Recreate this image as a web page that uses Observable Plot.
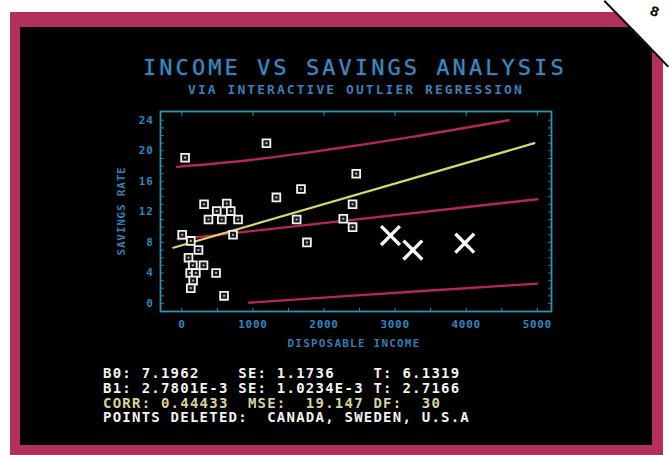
<!DOCTYPE html>
<html>
<head>
<meta charset="utf-8">
<script src="https://cdn.jsdelivr.net/npm/d3@7"></script>
<script src="https://cdn.jsdelivr.net/npm/@observablehq/plot@0.6"></script>
<style>
  html, body { margin: 0; padding: 0; background: #fff; }
  #page { position: relative; width: 669px; height: 455px; overflow: hidden; background: #fff; }
  .abs { position: absolute; white-space: pre; line-height: 1; }
  #chart { position: absolute; left: 0; top: 0; }
  #chart svg text { letter-spacing: 0.7px; }
</style>
</head>
<body>
<div id="page">
  <div class="abs" style="left:10px;top:12px;width:653px;height:443px;background:#b3305a;"></div>
  <div class="abs" style="left:20px;top:27px;width:632px;height:418px;background:#000;"></div>
  <div id="chart"></div>
  <div id="title" class="abs" style="left:143px;top:58.4px;line-height:20px;font-family:'DejaVu Sans Mono';font-size:22px;letter-spacing:3.05px;color:#3f88bd;text-shadow:0 0 2px rgba(60,140,200,0.5);"></div>
  <div id="subtitle" class="abs" style="left:188px;top:83.5px;line-height:12px;font-family:'DejaVu Sans Mono';font-weight:bold;font-size:13px;letter-spacing:2.05px;color:#3a7fb8;"></div>
  <div id="ylabel" class="abs" style="left:121px;top:211px;font-family:'DejaVu Sans Mono';font-weight:bold;font-size:11px;letter-spacing:0.8px;color:#2f7fb5;transform:translate(-50%,-50%) rotate(-90deg);"></div>
  <div id="xlabel" class="abs" style="left:354px;top:343px;font-family:'DejaVu Sans Mono';font-weight:bold;font-size:11px;letter-spacing:1.2px;color:#2f7fb5;transform:translate(-50%,-50%);"></div>
  <div id="stats" class="abs" style="left:103px;top:366px;font-family:'DejaVu Sans Mono';font-weight:bold;font-size:14px;letter-spacing:1.23px;line-height:14.8px;color:#f2f2ee;"></div>
  <div class="abs" style="left:0;top:0;width:669px;height:455px;background:#fff;clip-path:polygon(605px 0,669px 0,669px 66px);"></div>
  <div class="abs" style="left:605px;top:0;width:92px;height:2px;background:#111;transform-origin:0 0;transform:rotate(45.9deg);"></div>
  <div class="abs" style="left:650px;top:5px;font-family:'DejaVu Sans';font-weight:bold;font-size:13px;color:#111;transform:rotate(20deg);">8</div>
</div>
<script>
// ---- Data ----
const titleText = "INCOME VS SAVINGS ANALYSIS";
const subtitleText = "VIA INTERACTIVE OUTLIER REGRESSION";
const xLabel = "DISPOSABLE INCOME";
const yLabel = "SAVINGS RATE";

// kept points (disposable income, savings rate)
const incomeX  = [46, 1190, 1330, 1676, 313, 632, 491, 688, 375, 562, 791, 1615, 5, 126, 720, 1760, 234, 94, 154, 305, 117, 197, 482, 159, 126, 594, 2453, 2402, 2271, 2402];
const savingsY = [19.1, 21.0, 13.9, 15.0, 13.0, 13.1, 12.1, 12.1, 11.0, 11.0, 11.0, 11.0, 9.0, 8.2, 9.0, 8.0, 7.0, 6.0, 5.0, 5.0, 4.0, 4.0, 4.0, 3.0, 2.0, 1.0, 17.0, 13.0, 11.1, 10.0];

// deleted outliers
const deletedNames = ["CANADA", "SWEDEN", "U.S.A"];
const deletedX = [2935, 3250, 3980];
const deletedY = [8.9, 7.0, 7.9];

// fitted line after deletion (yellow)
const fitX = [-120, 4960];
const fitY = [7.3, 21.0];
// fit with all points (red, middle) and its band (red, upper/lower)
const allFitX = [-60, 5000];
const allFitY = [8.4, 13.65];
const upperX = [-70, 969, 2093, 3216, 4597];
const upperY = [17.9, 18.8, 20.2, 21.8, 24.0];
const lowerX = [946, 2093, 3500, 5000];
const lowerY = [0.1, 0.83, 1.7, 2.6];

const xTicks = [0, 1000, 2000, 3000, 4000, 5000];
const yTicks = [0, 4, 8, 12, 16, 20, 24];

const statLines = [
  "B0: 7.1962    SE: 1.1736    T: 6.1319",
  "B1: 2.7801E-3 SE: 1.0234E-3 T: 2.7166",
  "CORR: 0.44433  MSE:  19.147 DF:  30",
  "POINTS DELETED:  CANADA, SWEDEN, U.S.A"
];

// ---- Build ----
const pts = incomeX.map((x, i) => ({x, y: savingsY[i]}));
const outs = deletedX.map((x, i) => ({x, y: deletedY[i], name: deletedNames[i]}));
const toLine = (xs, ys) => xs.map((x, i) => ({x, y: ys[i]}));

const axisColor = "#2f86c0";
const frameColor = "#2a96b0";
const red = "#b3275a";
const yellow = "#d6d86a";

const chart = Plot.plot({
  width: 669,
  height: 455,
  marginLeft: 160,
  marginRight: 118,
  marginTop: 111,
  marginBottom: 144,
  style: {background: "transparent", fontFamily: "DejaVu Sans Mono", color: axisColor},
  x: {domain: [-300, 5200]},
  y: {domain: [-1.05, 25.15]},
  marks: [
    Plot.frame({stroke: frameColor, strokeWidth: 1.8}),
    Plot.axisY({anchor: "left", ticks: d3.range(0, 25, 1), tickSize: -4, text: null, label: null, stroke: frameColor, strokeOpacity: 0.8}),
    Plot.axisY({anchor: "right", ticks: d3.range(0, 25, 1), tickSize: -4, text: null, label: null, stroke: frameColor, strokeOpacity: 0.8}),
    Plot.axisX({anchor: "top", ticks: xTicks, tickSize: -4, text: null, label: null, stroke: frameColor}),
    Plot.axisX({anchor: "bottom", ticks: d3.range(0, 5001, 500), tickSize: -3, text: null, label: null, stroke: frameColor}),
    Plot.axisY({anchor: "left", ticks: yTicks, tickSize: 0, tickPadding: 7, label: null, tickFormat: d => String(d), fill: axisColor, fontSize: 11, fontWeight: "bold"}),
    Plot.axisX({anchor: "bottom", ticks: xTicks, tickSize: 0, tickPadding: 9, label: null, tickFormat: d => String(d), fill: axisColor, fontSize: 11, fontWeight: "bold"}),
    Plot.line(toLine(upperX, upperY), {x: "x", y: "y", stroke: red, strokeWidth: 2.4, curve: "monotone-x"}),
    Plot.line(toLine(allFitX, allFitY), {x: "x", y: "y", stroke: red, strokeWidth: 2.4}),
    Plot.line(toLine(lowerX, lowerY), {x: "x", y: "y", stroke: red, strokeWidth: 2.4, curve: "monotone-x"}),
    Plot.line(toLine(fitX, fitY), {x: "x", y: "y", stroke: yellow, strokeWidth: 2.2}),
    Plot.dot(pts, {x: "x", y: "y", symbol: "square", r: 4.4, fill: "#1a1a1a", stroke: "#f2f2f2", strokeWidth: 1.8}),
    Plot.dot(pts, {x: "x", y: "y", r: 1.1, fill: "#bbbbbb"}),
    Plot.dot(outs, {x: "x", y: "y", symbol: "times", r: 8.6, stroke: "#f4f4f4", strokeWidth: 3.4, title: "name"}),
    Plot.dot(outs, {x: "x", y: "y", symbol: "square", r: 2.6, fill: "#ffffff"})
  ]
});
document.getElementById("chart").appendChild(chart);

document.getElementById("title").textContent = titleText;
document.getElementById("subtitle").textContent = subtitleText;
document.getElementById("xlabel").textContent = xLabel;
document.getElementById("ylabel").textContent = yLabel;
const stats = document.getElementById("stats");
statLines.forEach((s, i) => {
  const d = document.createElement("div");
  d.textContent = s;
  d.style.color = i === 2 ? "#d8d49a" : "#f2f2ee";
  stats.appendChild(d);
});
</script>
</body>
</html>
